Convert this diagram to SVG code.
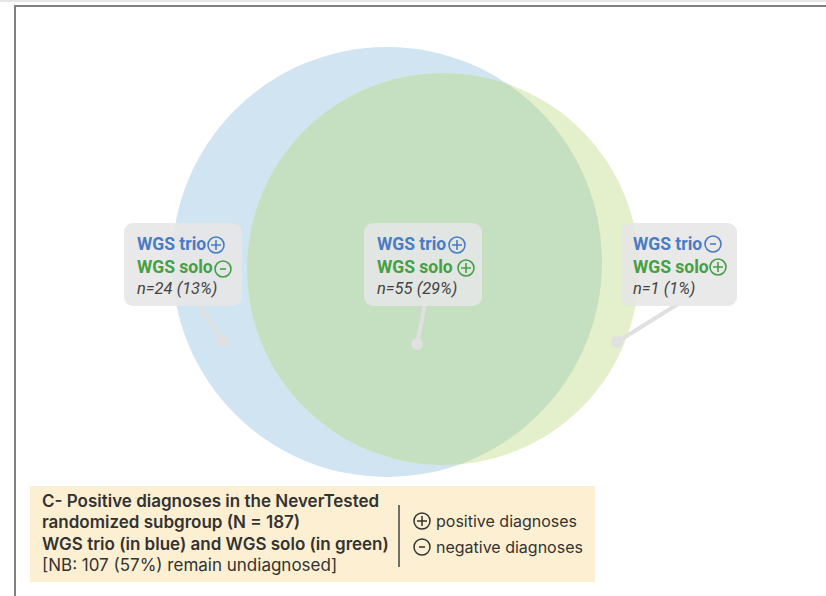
<svg xmlns="http://www.w3.org/2000/svg" width="826" height="596" viewBox="0 0 826 596">
<defs>
<style>
.box{fill:#e6e6e6;fill-opacity:0.88}
.trio{font-family:Roboto,"Liberation Sans",sans-serif;font-weight:bold;font-size:17.5px;fill:#4a7cc2}
.solo{font-family:Roboto,"Liberation Sans",sans-serif;font-weight:bold;font-size:17.5px;fill:#45a045}
.n{font-family:Roboto,"Liberation Sans",sans-serif;font-style:italic;font-size:16.5px;fill:#444}
.ib{fill:none;stroke:#4a7cc2;stroke-width:1.6}
.ig{fill:none;stroke:#45a045;stroke-width:1.6}
.ik{fill:none;stroke:#333;stroke-width:1.5}
.conn{stroke:#e0e0e0;stroke-width:4;fill:none}
.dot{fill:#e0e0e0}
.lg{font-family:Inter,Roboto,"Liberation Sans",sans-serif;font-size:16px;fill:#333}
.lgl{font-size:17px}
.lgb{font-weight:600}
</style>
<clipPath id="blueClip"><circle cx="387" cy="262" r="215"/></clipPath>
</defs>
<rect width="826" height="596" fill="#fff"/>
<rect x="0" y="0" width="826" height="2" fill="#e6e6e6"/>
<path d="M826 6 H15 V596" fill="none" stroke="#808080" stroke-width="2"/>
<g id="venn">
<circle cx="387" cy="262" r="215" fill="#d0e4f2"/>
<circle cx="443" cy="269" r="196" fill="#e4efcc"/>
<circle cx="443" cy="269" r="196" fill="#c5e0c0" clip-path="url(#blueClip)"/>
</g>
<g id="connectors">
<line class="conn" x1="199" y1="304" x2="222" y2="341"/>
<circle class="dot" cx="222" cy="341" r="6"/>
<line class="conn" x1="425" y1="304" x2="417" y2="344"/>
<circle class="dot" cx="417" cy="344" r="6"/>
<line class="conn" x1="678" y1="304" x2="617" y2="342"/>
<circle class="dot" cx="617" cy="342" r="6"/>
</g>
<g id="box-trio-only">
<rect class="box" x="124" y="223" width="118" height="83" rx="9"/>
<text class="trio" x="137" y="250">WGS trio</text>
<circle class="ib" cx="216" cy="245" r="8"/><path class="ib" d="M211 245h10M216 240v10"/>
<text class="solo" x="137" y="273">WGS solo</text>
<circle class="ig" cx="223" cy="269" r="8"/><path class="ig" d="M220 269h6"/>
<text class="n" x="137" y="294">n=24 (13%)</text>
</g>
<g id="box-both">
<rect class="box" x="364" y="223" width="118" height="83" rx="9"/>
<text class="trio" x="377" y="250">WGS trio</text>
<circle class="ib" cx="457" cy="245" r="8"/><path class="ib" d="M452 245h10M457 240v10"/>
<text class="solo" x="377" y="273">WGS solo</text>
<circle class="ig" cx="466" cy="268" r="8"/><path class="ig" d="M461 268h10M466 263v10"/>
<text class="n" x="377" y="294">n=55 (29%)</text>
</g>
<g id="box-solo-only">
<rect class="box" x="621" y="223" width="116" height="83" rx="9"/>
<text class="trio" x="633" y="250">WGS trio</text>
<circle class="ib" cx="713" cy="244" r="8"/><path class="ib" d="M710 244h6"/>
<text class="solo" x="633" y="273">WGS solo</text>
<circle class="ig" cx="718" cy="267" r="8"/><path class="ig" d="M713 267h10M718 262v10"/>
<text class="n" x="633" y="294">n=1 (1%)</text>
</g>
<g id="legend">
<rect x="30" y="486" width="565" height="96" fill="#fdf0d2"/>
<text class="lg lgl lgb" x="42" y="507">C- Positive diagnoses in the NeverTested</text>
<text class="lg lgl lgb" x="42" y="528">randomized subgroup (N = 187)</text>
<text class="lg lgl lgb" x="42" y="550">WGS trio (in blue) and WGS solo (in green)</text>
<text class="lg lgl" x="42" y="571">[NB: 107 (57%) remain undiagnosed]</text>
<line x1="399" y1="505" x2="399" y2="567" stroke="#444" stroke-width="1.5"/>
<circle class="ik" cx="422" cy="521" r="8"/><path class="ik" d="M417 521h10M422 516v10"/>
<text class="lg" x="436" y="527">positive diagnoses</text>
<circle class="ik" cx="422" cy="547" r="8"/><path class="ik" d="M419 547h6"/>
<text class="lg" x="436" y="553">negative diagnoses</text>
</g>
</svg>
